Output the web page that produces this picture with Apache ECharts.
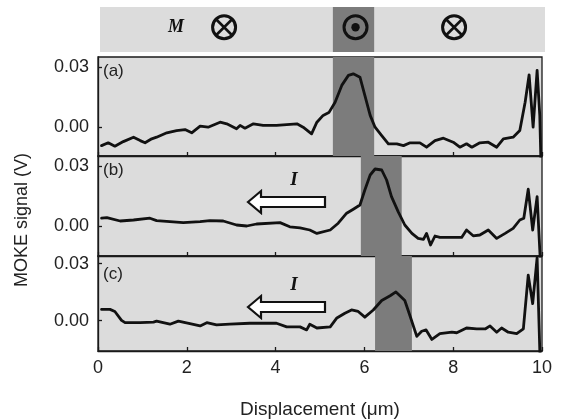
<!DOCTYPE html>
<html><head><meta charset="utf-8">
<script src="https://cdn.jsdelivr.net/npm/echarts@6/dist/echarts.min.js"></script>
<style>html,body{margin:0;padding:0;background:#fff}#c{width:562px;height:420px}</style>
</head><body><div id="c"></div>
<script>
// ---- data ----
const dispA = [0.08,0.23,0.38,0.57,0.80,0.95,1.06,1.21,1.32,1.55,1.77,1.96,2.11,2.30,2.48,2.75,2.90,3.12,3.20,3.31,3.50,3.72,4.02,4.48,4.62,4.81,4.93,5.07,5.20,5.34,5.49,5.64,5.75,5.90,6.01,6.13,6.24,6.39,6.54,6.73,6.88,7.03,7.25,7.40,7.59,7.78,8.00,8.15,8.30,8.42,8.60,8.79,8.98,9.13,9.35,9.50,9.62,9.71,9.80,9.89,9.95,9.99];
const sigA  = [-0.0093,-0.0079,-0.0096,-0.0073,-0.0051,-0.0068,-0.0079,-0.0059,-0.0051,-0.0029,-0.0018,-0.0013,-0.0029,0.0004,-0.0001,0.0024,0.0016,-0.0009,0.0008,-0.0006,0.0016,0.0008,0.0008,0.0016,-0.0001,-0.0034,0.0024,0.0058,0.0072,0.0124,0.0208,0.0258,0.0266,0.0249,0.0158,0.0058,-0.0001,-0.0043,-0.0084,-0.0084,-0.0093,-0.0079,-0.0079,-0.0101,-0.0068,-0.0056,-0.0076,-0.0101,-0.0084,-0.0101,-0.0079,-0.0076,-0.0101,-0.0059,-0.0051,-0.0018,0.0124,0.0261,-0.0001,0.0283,0.0058,-0.0300];

const dispB = [0.08,0.20,0.50,0.80,1.17,1.32,1.62,1.92,2.30,2.52,2.82,3.12,3.35,3.57,4.10,4.32,4.55,4.77,4.93,5.23,5.41,5.60,5.75,5.90,6.01,6.13,6.24,6.39,6.50,6.61,6.76,6.91,7.07,7.21,7.33,7.40,7.49,7.59,7.70,7.97,8.19,8.30,8.45,8.60,8.79,8.98,9.17,9.35,9.50,9.59,9.69,9.79,9.89,9.95,9.99];
const sigB  = [0.0039,0.0042,0.0025,0.0030,0.0039,0.0027,0.0022,0.0017,0.0022,0.0027,0.0025,0.0005,0.0000,0.0010,0.0017,-0.0004,-0.0009,-0.0020,-0.0037,-0.0020,0.0014,0.0064,0.0084,0.0105,0.0180,0.0255,0.0285,0.0280,0.0230,0.0147,0.0072,0.0005,-0.0037,-0.0062,-0.0067,-0.0037,-0.0095,-0.0050,-0.0057,-0.0057,-0.0057,-0.0020,-0.0049,-0.0045,-0.0020,-0.0062,-0.0037,-0.0012,0.0030,0.0039,0.0184,-0.0020,0.0147,-0.0120,-0.0300];

const dispC = [0.08,0.27,0.38,0.53,0.61,0.95,1.25,1.32,1.62,1.81,2.07,2.30,2.45,2.67,2.97,3.42,4.02,4.25,4.55,4.70,4.77,4.93,5.23,5.38,5.56,5.71,5.86,6.01,6.20,6.39,6.58,6.71,6.80,6.91,7.03,7.18,7.29,7.39,7.52,7.70,7.97,8.08,8.30,8.53,8.72,8.83,8.98,9.09,9.24,9.43,9.58,9.69,9.79,9.89,9.95,9.99];
const sigC  = [0.0059,0.0059,0.0048,0.0001,-0.0011,-0.0011,-0.0008,-0.0003,-0.0019,-0.0003,-0.0016,-0.0028,-0.0011,-0.0023,-0.0019,-0.0014,-0.0014,-0.0033,-0.0033,-0.0049,-0.0019,-0.0039,-0.0033,0.0014,0.0039,0.0056,0.0048,0.0018,0.0056,0.0106,0.0131,0.0151,0.0131,0.0106,0.0023,-0.0083,-0.0056,-0.0049,-0.0099,-0.0069,-0.0061,-0.0064,-0.0039,-0.0044,-0.0044,-0.0028,-0.0061,-0.0039,-0.0061,-0.0069,-0.0044,0.0239,0.0089,0.0331,-0.0153,-0.0300];

const bandTop = [5.29, 6.22];
const bandA = [5.29, 6.22];
const bandB = [5.92, 6.84];
const bandC = [6.24, 7.07];
const markerPos  = [2.84, 5.80, 8.02];
const markerKind = ['in', 'out', 'in'];
const panelLabels = ['(a)', '(b)', '(c)'];
const xTickValues = [0, 2, 4, 6, 8, 10];
const yTickValues = [0, 0.03];

// ---- styles ----
const LIGHT = '#dcdcdc', DARK = '#7c7c7c', INK = '#111';
const FONT = 'Liberation Sans, Arial, sans-serif';
const SERIF = 'Liberation Serif, Times New Roman, serif';

const zip = (xs, ys) => xs.map((x, i) => [x, ys[i]]);

const panels = [
  {top: 57,  height: 99,  min: -0.0145, max: 0.035, data: zip(dispA, sigA), band: bandA},
  {top: 156, height: 100, min: -0.015,  max: 0.035, data: zip(dispB, sigB), band: bandB},
  {top: 256, height: 100, min: -0.016,  max: 0.034, data: zip(dispC, sigC), band: bandC}
];

const grids = [{left: 98, right: 20, top: 7, height: 45, show: false}];
const xAxes = [{gridIndex: 0, type: 'value', min: 0, max: 10, show: false}];
const yAxes = [{gridIndex: 0, type: 'value', min: -1.1, max: 0.9, show: false}];
const series = [
  {type: 'line', xAxisIndex: 0, yAxisIndex: 0, data: [[0, 0], [10, 0]], symbol: 'none',
   lineStyle: {width: 0, opacity: 0}, silent: true,
   markArea: {silent: true, itemStyle: {color: DARK, opacity: 1},
     data: [[{xAxis: bandTop[0]}, {xAxis: bandTop[1]}]]}},
  {type: 'custom', xAxisIndex: 0, yAxisIndex: 0, z: 5,
   data: markerPos.map((x, i) => [x, 0, markerKind[i] === 'in' ? 1 : 2]),
   renderItem: function (params, api) {
     const p = api.coord([api.value(0), api.value(1)]);
     const r = 11.5;
     const children = [{type: 'circle', shape: {cx: p[0], cy: p[1], r: r},
       style: {fill: 'none', stroke: INK, lineWidth: 3}}];
     if (api.value(2) === 1) {
       const d = r * 0.72;
       children.push({type: 'line', shape: {x1: p[0] - d, y1: p[1] - d, x2: p[0] + d, y2: p[1] + d}, style: {stroke: INK, lineWidth: 2.6}});
       children.push({type: 'line', shape: {x1: p[0] - d, y1: p[1] + d, x2: p[0] + d, y2: p[1] - d}, style: {stroke: INK, lineWidth: 2.6}});
     } else {
       children.push({type: 'circle', shape: {cx: p[0], cy: p[1], r: 4.2}, style: {fill: INK}});
     }
     return {type: 'group', children: children};
   }}
];

panels.forEach((pn, k) => {
  const gi = k + 1;
  const last = k === panels.length - 1;
  grids.push({left: 98, right: 20, top: pn.top, height: pn.height, show: true,
    backgroundColor: LIGHT, borderColor: '#1a1a1a', borderWidth: 1.3});
  xAxes.push({gridIndex: gi, type: 'value', min: 0, max: 10, interval: 2,
    axisLine: {show: true, onZero: false, lineStyle: {color: '#1a1a1a', width: 1.3}},
    axisTick: {show: true, inside: true, length: 4, lineStyle: {color: '#1a1a1a', width: 1.3}},
    axisLabel: {show: last, margin: 8, fontSize: 18, color: '#222', fontFamily: FONT},
    splitLine: {show: false},
    name: last ? 'Displacement (\u03bcm)' : '', nameLocation: 'middle', nameGap: 49,
    nameTextStyle: {fontSize: 19, color: '#222', fontFamily: FONT}});
  yAxes.push({gridIndex: gi, type: 'value', min: pn.min, max: pn.max,
    axisLine: {show: true, lineStyle: {color: '#1a1a1a', width: 1.3}},
    axisTick: {show: true, inside: true, length: 4, customValues: yTickValues, lineStyle: {color: '#1a1a1a', width: 1.3}},
    axisLabel: {show: true, margin: 9, fontSize: 18, color: '#222', fontFamily: FONT,
      customValues: yTickValues, formatter: v => v.toFixed(2)},
    splitLine: {show: false}});
  series.push({type: 'line', xAxisIndex: gi, yAxisIndex: gi, data: pn.data,
    symbol: 'none', clip: true, z: 3,
    lineStyle: {color: INK, width: 2.8, join: 'round', cap: 'round'},
    markArea: {silent: true, itemStyle: {color: DARK, opacity: 1},
      data: [[{xAxis: pn.band[0]}, {xAxis: pn.band[1]}]]}});
});

function arrow(y) {
  return {type: 'polygon', z: 20,
    shape: {points: [[248, y], [261, y - 11], [261, y - 5], [325, y - 5], [325, y + 5], [261, y + 5], [261, y + 11]]},
    style: {fill: '#fff', stroke: INK, lineWidth: 2.2}};
}

const graphics = [
  {type: 'rect', z: -10, shape: {x: 100, y: 7, width: 445, height: 45}, style: {fill: LIGHT}},
  {type: 'text', z: 20, x: 176, y: 27, style: {text: 'M', font: 'italic bold 18px ' + SERIF, fill: INK, textAlign: 'center', textVerticalAlign: 'middle'}},
  {type: 'text', z: 20, x: 103, y: 71, style: {text: panelLabels[0], font: '17px ' + FONT, fill: '#222', textAlign: 'left', textVerticalAlign: 'middle'}},
  {type: 'text', z: 20, x: 103, y: 170, style: {text: panelLabels[1], font: '17px ' + FONT, fill: '#222', textAlign: 'left', textVerticalAlign: 'middle'}},
  {type: 'text', z: 20, x: 103, y: 274, style: {text: panelLabels[2], font: '17px ' + FONT, fill: '#222', textAlign: 'left', textVerticalAlign: 'middle'}},
  {type: 'text', z: 20, x: 294, y: 180, style: {text: 'I', font: 'italic bold 19px ' + SERIF, fill: INK, textAlign: 'center', textVerticalAlign: 'middle'}},
  {type: 'text', z: 20, x: 294, y: 285, style: {text: 'I', font: 'italic bold 19px ' + SERIF, fill: INK, textAlign: 'center', textVerticalAlign: 'middle'}},
  arrow(202),
  arrow(307),
  {type: 'text', z: 20, x: 22, y: 220, rotation: Math.PI / 2,
   style: {text: 'MOKE signal (V)', font: '18px ' + FONT, fill: '#222', textAlign: 'center', textVerticalAlign: 'middle'}}
];

const chart = echarts.init(document.getElementById('c'), null, {renderer: 'canvas'});
chart.setOption({
  animation: false,
  backgroundColor: '#fff',
  grid: grids, xAxis: xAxes, yAxis: yAxes, series: series, graphic: graphics
});
</script></body></html>
